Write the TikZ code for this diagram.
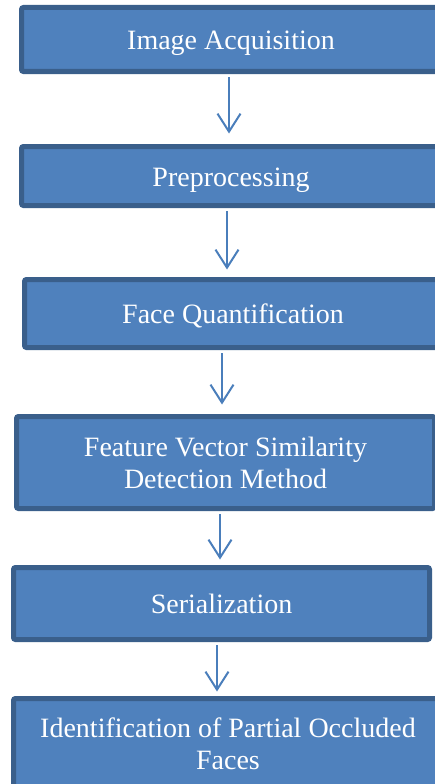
\documentclass[tikz,border=0pt]{standalone}
\usepackage{fontspec}
\setmainfont{Liberation Serif}
\usetikzlibrary{arrows.meta,positioning}
\definecolor{boxfill}{HTML}{4F81BD}
\definecolor{boxline}{HTML}{3A5F8B}
\definecolor{arrline}{HTML}{4A7EBB}

\begin{document}
\begin{tikzpicture}[
  x=1pt,y=-1pt,
  font=\fontsize{28}{32}\selectfont,
  stage/.style={draw=boxline,fill=boxfill,line width=5pt,rounded corners=2pt,
                text=white,align=center,inner sep=0pt},
  oneline/.style={text height=26pt,text depth=6pt},
  arr/.style={-{Straight Barb[length=18pt,width=23pt]},arrline,
              line width=2pt,shorten <=3pt},
]
  \useasboundingbox (0,0) rectangle (435,784);
  \clip (0,0) rectangle (435,784);

  \node[stage,oneline,minimum width=419pt,minimum height=64pt] (acq)
    at (231,39.5) {Image Acquisition};
  \node[stage,oneline,minimum width=419pt,minimum height=59pt] (pre)
    at (231,176) {Preprocessing};
  \node[stage,oneline,minimum width=417pt,minimum height=68pt] (quant)
    at (233,313.5) {Face Quantification};
  \node[stage,minimum width=418pt,minimum height=92pt] (feat)
    at (225.5,462.5) {Feature Vector Similarity\\Detection Method};
  \node[stage,oneline,minimum width=416pt,minimum height=72pt] (ser)
    at (221.5,603.5) {Serialization};
  \node[stage,minimum width=429pt,minimum height=91pt] (ident)
    at (228,744) {Identification of Partial Occluded\\Faces};

  \draw[arr,shorten >=10.5pt] ([xshift=-2pt]acq.south)
    -- ([xshift=-2pt]acq.south |- pre.north);
  \draw[arr,shorten >=7.5pt] ([xshift=-4pt]pre.south)
    -- ([xshift=-4pt]pre.south |- quant.north);
  \draw[arr,shorten >=9.5pt] ([xshift=-11pt]quant.south)
    -- ([xshift=-11pt]quant.south |- feat.north);
  \draw[arr,shorten >=5.5pt] ([xshift=-5.5pt]feat.south)
    -- ([xshift=-5.5pt]feat.south |- ser.north);
  \draw[arr,shorten >=4.5pt] ([xshift=-4.5pt]ser.south)
    -- ([xshift=-4.5pt]ser.south |- ident.north);
\end{tikzpicture}
\end{document}
